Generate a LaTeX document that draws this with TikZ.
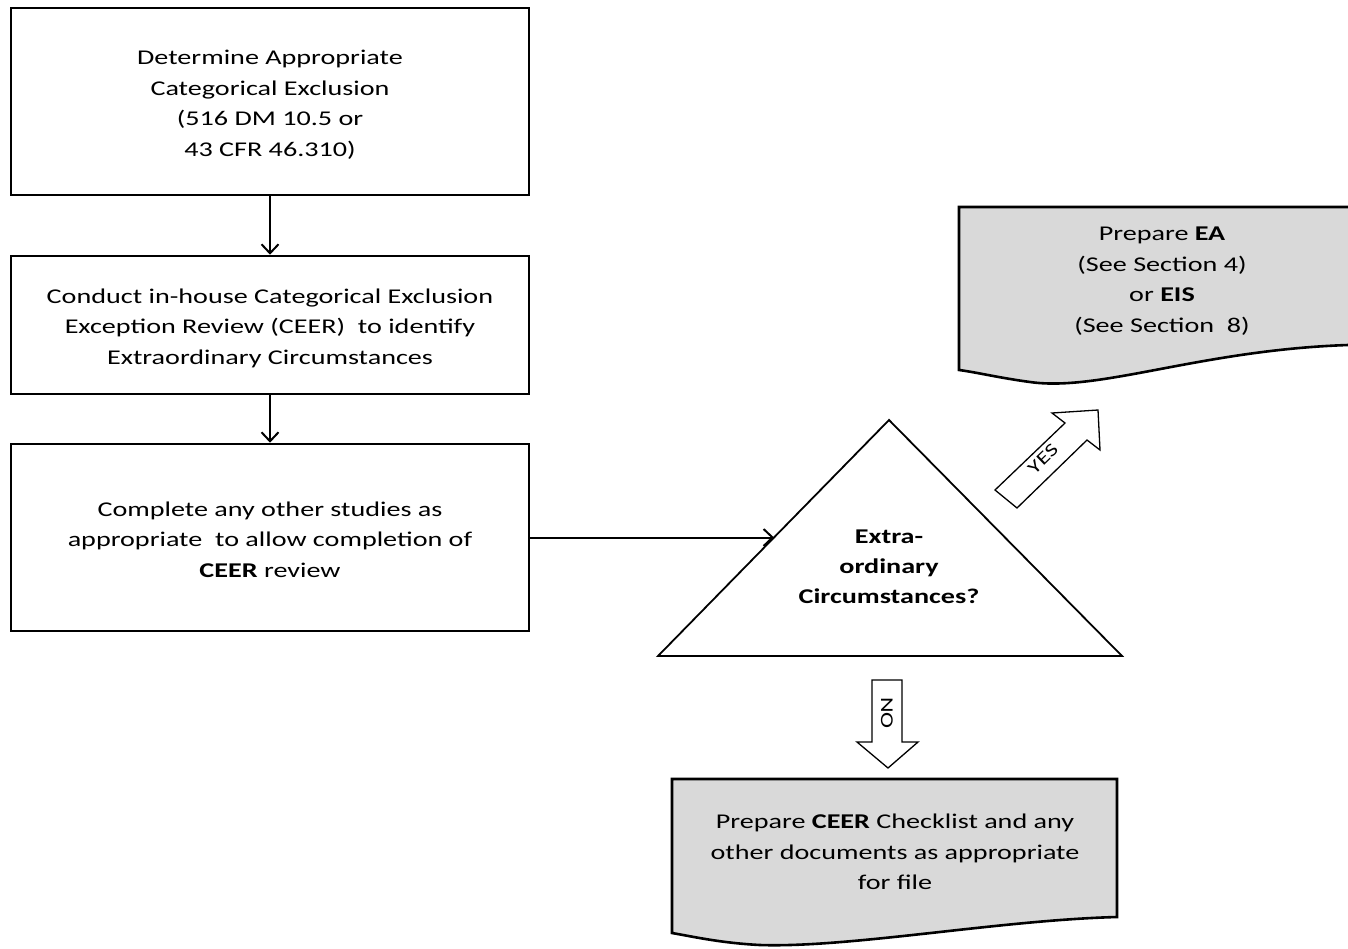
\documentclass[tikz,border=0pt]{standalone}
\usepackage{fontspec}
\setmainfont{Carlito}[FakeStretch=1.34]
\usetikzlibrary{arrows.meta}
\definecolor{docgray}{RGB}{217,217,217}
\tikzset{
  procbox/.style={draw=black, line width=2.6pt, minimum width=518pt, align=center, font=\fontsize{21}{30.5}\selectfont, inner sep=0pt},
  flow/.style={draw=black, line width=2pt, -{Straight Barb[length=9pt,width=17pt,line width=2pt]}},
  doc/.style={draw=black, fill=docgray, line width=2.6pt},
  doctext/.style={align=center, font=\fontsize{21}{30.5}\selectfont},
  blockarrow/.style={draw=black, fill=white, line width=1.3pt, line join=miter},
  arrowlabel/.style={font=\fontsize{18}{19}\selectfont, inner sep=0pt}
}
\begin{document}
\begin{tikzpicture}[x=1pt,y=-1pt]
\useasboundingbox (0,0) rectangle (1348,948);
% process boxes
\node[procbox, minimum height=187pt] (b1) at (270,101.5) {};
\node[align=center, font=\fontsize{21}{30.5}\selectfont] (t1) at (270,104.5) {Determine Appropriate\\Categorical Exclusion\\(516 DM 10.5 or\\43 CFR 46.310)};
\node[procbox, minimum height=138pt] (b2) at (270,325) {};
\node[align=center, font=\fontsize{21}{30.5}\selectfont] (t2) at (270,328) {Conduct in-house Categorical Exclusion\\Exception Review (CEER)\ \ to identify\\Extraordinary Circumstances};
\node[procbox, minimum height=187pt] (b3) at (270,537.5) {};
\node[align=center, font=\fontsize{21}{30.5}\selectfont] (t3) at (270,539.5) {Complete any other studies as\\appropriate\ \ to allow completion of\\\textbf{CEER} review};
% decision triangle
\coordinate (tapex) at (889,420);
\coordinate (tleft) at (658,656);
\coordinate (tright) at (1122,656);
\draw[line width=1.8pt, line join=miter] (tapex) -- (tleft) -- (tright) -- cycle;
\node[align=center, font=\bfseries\fontsize{21}{30}\selectfont] (dec) at (889,567) {Extra-\\ordinary\\Circumstances?};
\coordinate (tin) at (774,537.5);
% connectors
\draw[flow] (b1.south) -- (b2.north);
\draw[flow] (b2.south) -- (b3.north);
\draw[flow] (b3.east) -- (tin);
% EA/EIS document
\draw[doc] (959,207) -- (1356,207) -- (1356,345) -- (1348,345)
  .. controls (1200,350) and (1100,392) .. (1030,382)
  .. controls (1000,378) and (975,372) .. (959,370) -- cycle;
\node[doctext] (ea) at (1162,281) {Prepare \textbf{EA}\\(See Section 4)\\or \textbf{EIS}\\(See Section\ \ 8)};
% CEER document
\draw[doc] (672,779) -- (1117,779) -- (1117,917)
  .. controls (1000,920) and (850,948) .. (760,945)
  .. controls (720,943) and (690,936) .. (672,933) -- cycle;
\node[doctext] (ceer) at (895,852) {Prepare \textbf{CEER} Checklist and any\\other documents as appropriate\\for file};
% YES block arrow
\draw[blockarrow] (995,490) -- (1065,423) -- (1052,413) -- (1098,410) -- (1100,450) -- (1087,440) -- (1017,508) -- cycle;
\node[arrowlabel, rotate=44] (yes) at (1043,459) {YES};
% NO block arrow
\draw[blockarrow] (872,680) -- (902,680) -- (902,742) -- (918,742) -- (888,768) -- (857,742) -- (872,742) -- cycle;
\node[arrowlabel, rotate=-90] (no) at (887,713) {NO};
\end{tikzpicture}
\end{document}
